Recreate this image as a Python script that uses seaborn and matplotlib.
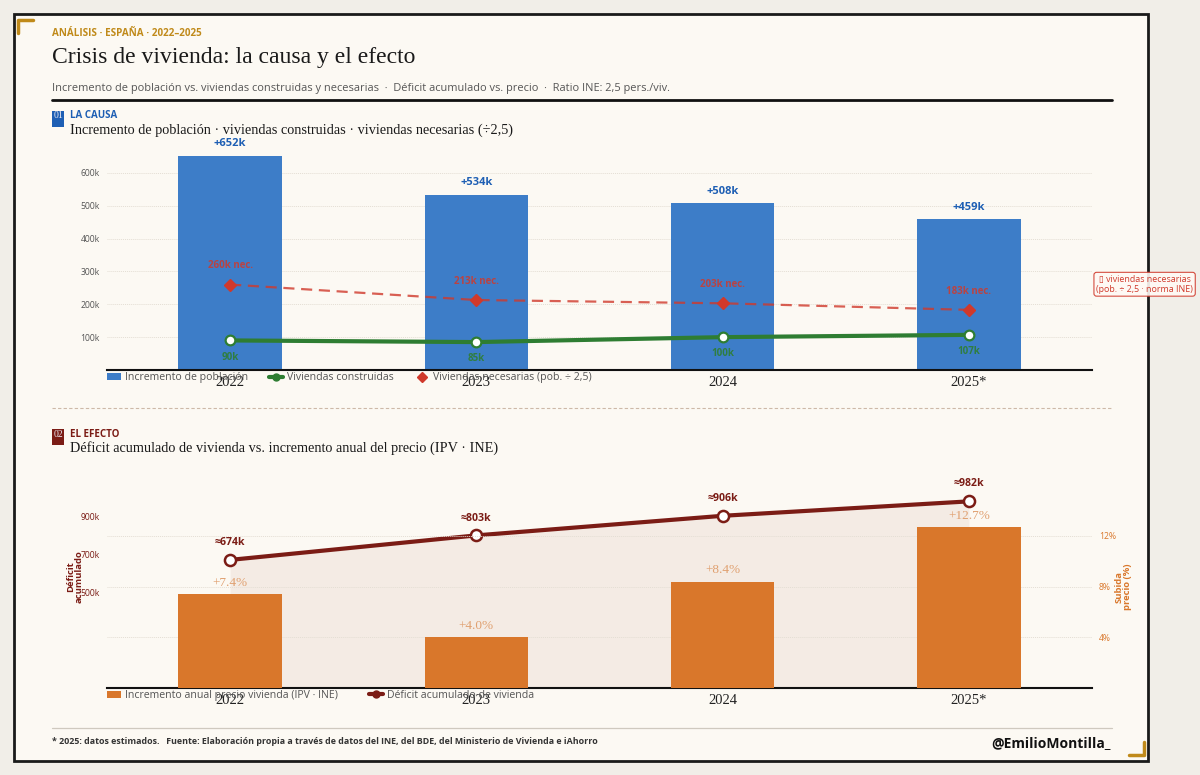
import matplotlib
matplotlib.use("Agg")
import matplotlib.pyplot as plt
import seaborn as sns
import pandas as pd
from matplotlib.patches import Rectangle, Patch
from matplotlib.lines import Line2D

# data
years = ["2022", "2023", "2024", "2025*"]
pop_increase = [652, 534, 508, 459]          # thousands of people
homes_needed = [260, 213, 203, 183]          # thousands (pop / 2.5)
homes_built = [90, 85, 100, 107]             # thousands
deficit_acc = [674, 803, 906, 982]           # thousands
price_rise = [7.4, 4.0, 8.4, 12.7]           # %

W, H = 1200, 775
SANS = "Open Sans"
SERIF = "Liberation Serif"

BG_OUT = "#f1eee8"
BG_IN = "#fcf9f3"
BLUE = "#3d7dc8"
BLUE_D = "#1e5fb4"
GREEN = "#2e7d32"
RED = "#d0392b"
ORANGE = "#d9772b"
DARKRED = "#7b1c15"
GOLD = "#c08a1a"

sns.set_theme(style="white")
plt.rcParams["font.family"] = [SANS, "DejaVu Sans"]


def fx(px):
    return px / W


def fy(py):
    return 1 - py / H


fig = plt.figure(figsize=(12, 7.75), dpi=100, facecolor=BG_OUT)

# frame
fig.add_artist(Rectangle((fx(14), fy(761)), fx(1148) - fx(14), fy(14) - fy(761),
                         transform=fig.transFigure, facecolor=BG_IN,
                         edgecolor="#1a1a1a", lw=2, zorder=0))
# gold corner brackets
fig.add_artist(Line2D([fx(33), fx(18), fx(18)], [fy(20), fy(20), fy(33)],
                      transform=fig.transFigure, color=GOLD, lw=2.5))
fig.add_artist(Line2D([fx(1129), fx(1144), fx(1144)], [fy(755), fy(755), fy(742)],
                      transform=fig.transFigure, color=GOLD, lw=2.5))

# header
fig.text(fx(52), fy(33), "ANÁLISIS · ESPAÑA · 2022–2025", color=GOLD,
         fontsize=7.1, fontweight="bold", va="center")
fig.text(fx(52), fy(58), "Crisis de vivienda: la causa y el efecto",
         family=SERIF, fontsize=17, color="#1a1a1a", va="center")
fig.text(fx(52), fy(88),
         "Incremento de población vs. viviendas construidas y necesarias  ·  "
         "Déficit acumulado vs. precio  ·  Ratio INE: 2,5 pers./viv.",
         fontsize=7.9, color="#555555", va="center")
fig.add_artist(Line2D([fx(52), fx(1112)], [fy(99.5), fy(99.5)],
                      transform=fig.transFigure, color="#111111", lw=2))

# section headings
def section(y_badge, num, kicker, subtitle, color):
    fig.add_artist(Rectangle((fx(52), fy(y_badge + 16)), fx(12), 16 / H,
                             transform=fig.transFigure, facecolor=color,
                             edgecolor="none"))
    fig.text(fx(58), fy(y_badge + 5), num, family=SERIF, fontsize=7,
             color="#e8e8f0", ha="center", va="center")
    fig.text(fx(70), fy(y_badge + 5), kicker, color=color, fontsize=7,
             fontweight="bold", va="center")
    fig.text(fx(70), fy(y_badge + 19), subtitle, family=SERIF, fontsize=10.3,
             color="#1a1a1a", va="center")


section(111, "01", "LA CAUSA",
        "Incremento de población · viviendas construidas · viviendas necesarias (÷2,5)",
        BLUE_D)
section(429, "02", "EL EFECTO",
        "Déficit acumulado de vivienda vs. incremento anual del precio (IPV · INE)",
        DARKRED)

fig.add_artist(Line2D([fx(52), fx(1112)], [fy(408), fy(408)],
                      transform=fig.transFigure, color="#cdb9a8", lw=0.8,
                      ls=(0, (3, 2))))

x_pos = list(range(len(years)))

# ---------- top chart ----------
df_top = pd.DataFrame({"year": years, "pob": [v * 1000 for v in pop_increase]})
ax_t = fig.add_axes([fx(107), fy(370), fx(1092) - fx(107), (370 - 140) / H])
ax_t.set_facecolor("none")
sns.barplot(data=df_top, x="year", y="pob", order=years, color=BLUE,
            width=0.42, saturation=1, ax=ax_t, zorder=2, edgecolor="none",
            linewidth=0)
for i, v in enumerate(pop_increase):
    ax_t.annotate(f"+{v}k", (i, v * 1000), xytext=(0, 8.5), textcoords="offset points",
                  ha="center", va="center", color=BLUE_D, fontsize=8,
                  fontweight="bold", annotation_clip=False)

need = [v * 1000 for v in homes_needed]
built = [v * 1000 for v in homes_built]
ax_t.plot(x_pos, need, color=RED, alpha=0.8, lw=1.6, ls=(0, (5, 3)), zorder=3)
ax_t.plot(x_pos, need, ls="none", marker="D", ms=6, color=RED, zorder=4)
ax_t.plot(x_pos, built, color=GREEN, lw=3, marker="o", ms=7,
          markerfacecolor="white", markeredgecolor=GREEN, markeredgewidth=1.6,
          zorder=5)
for i in x_pos:
    ax_t.annotate(f"{homes_needed[i]}k nec.", (i, need[i]), xytext=(0, 13.5),
                  textcoords="offset points", ha="center", va="center",
                  color=RED, alpha=0.85, fontsize=7, fontweight="bold")
    ax_t.annotate(f"{homes_built[i]}k", (i, built[i]), xytext=(0, -12),
                  textcoords="offset points", ha="center", va="center",
                  color=GREEN, alpha=0.9, fontsize=7, fontweight="bold")

ax_t.annotate("▯ viviendas necesarias\n(pob. ÷ 2,5 · norma INE)", (3.5, 261000),
              xytext=(3, 0), textcoords="offset points", ha="left", va="center",
              multialignment="center", fontsize=6.4, color=RED,
              annotation_clip=False,
              bbox=dict(boxstyle="round,pad=0.25,rounding_size=0.3",
                        facecolor="#fffaf5", edgecolor=RED, lw=0.8, alpha=0.9))

ax_t.set_xlim(-0.5, 3.5)
ax_t.set_ylim(0, 700000)
ax_t.set_yticks([100000, 200000, 300000, 400000, 500000, 600000])
ax_t.set_yticklabels([f"{k}k" for k in range(100, 700, 100)])
ax_t.set_xticks(x_pos)
ax_t.set_xticklabels(years, family=SERIF, fontsize=10.5, color="#222222")
ax_t.tick_params(axis="y", length=0, pad=5, labelsize=6.2, labelcolor="#555555")
ax_t.tick_params(axis="x", length=0, pad=4)
ax_t.set_xlabel("")
ax_t.set_ylabel("")
ax_t.yaxis.grid(True, color="#e4ded4", lw=0.7, ls=(0, (1, 1)))
ax_t.set_axisbelow(True)
for s in ["top", "right", "left"]:
    ax_t.spines[s].set_visible(False)
ax_t.spines["bottom"].set_color("#111111")
ax_t.spines["bottom"].set_linewidth(1.5)

leg_t = [Patch(facecolor=BLUE, edgecolor="none"),
         Line2D([], [], color=GREEN, lw=3, marker="o", ms=5, markerfacecolor=GREEN),
         Line2D([], [], ls="none", marker="D", ms=5, color=RED)]
ax_t.legend(leg_t, ["Incremento de población", "Viviendas construidas",
                    "Viviendas necesarias (pob. ÷ 2,5)"],
            ncol=3, loc="upper left", bbox_to_anchor=(0, -0.01), frameon=False,
            fontsize=7.6, labelcolor="#555555", handlelength=1.3,
            handletextpad=0.4, columnspacing=2.0, borderaxespad=0, borderpad=0)

# ---------- bottom chart ----------
ax_b = fig.add_axes([fx(107), fy(688), fx(1092) - fx(107), (688 - 470) / H])
ax_b.set_facecolor("none")
deficit = [v * 1000 for v in deficit_acc]
ax_b.fill_between(x_pos, deficit, 0, color="#a0503a", alpha=0.08, lw=0, zorder=1)
ax_b.plot(x_pos, deficit, color=DARKRED, lw=3, marker="o", ms=8,
          markerfacecolor="white", markeredgecolor=DARKRED, markeredgewidth=1.8,
          zorder=5)
for i in x_pos:
    ax_b.annotate(f"≈{deficit_acc[i]}k", (i, deficit[i]), xytext=(0, 12.5),
                  textcoords="offset points", ha="center", va="center",
                  color=DARKRED, fontsize=7.6, fontweight="bold")
ax_b.set_xlim(-0.5, 3.5)
ax_b.set_ylim(0, 1147000)
ax_b.set_yticks([500000, 700000, 900000])
ax_b.set_yticklabels(["500k", "700k", "900k"])
ax_b.tick_params(axis="y", length=0, pad=5, labelsize=6.2, labelcolor=DARKRED)
ax_b.grid(False)
for s in ["top", "right", "left"]:
    ax_b.spines[s].set_visible(False)
ax_b.spines["bottom"].set_color("#111111")
ax_b.spines["bottom"].set_linewidth(1.5)
ax_b.spines["bottom"].set_zorder(10)

ax_p = ax_b.twinx()
df_bot = pd.DataFrame({"year": years, "ipv": price_rise})
sns.barplot(data=df_bot, x="year", y="ipv", order=years, color=ORANGE,
            width=0.42, saturation=1, ax=ax_p, zorder=2, edgecolor="none",
            linewidth=0)
for i, v in enumerate(price_rise):
    ax_p.annotate(f"+{v:.1f}%", (i, v), xytext=(0, 8), textcoords="offset points",
                  ha="center", va="center", family=SERIF, fontsize=9.5,
                  color="#e0a070")
ax_p.set_ylim(0, 17.2)
ax_p.set_yticks([4, 8, 12])
ax_p.set_yticklabels(["4%", "8%", "12%"])
ax_p.tick_params(axis="y", length=0, pad=5, labelsize=6.2, labelcolor=ORANGE)
ax_p.yaxis.grid(True, color="#e4ded4", lw=0.7, ls=(0, (1, 1)))
ax_p.set_axisbelow(True)
ax_p.set_ylabel("")
ax_p.set_xlabel("")
for s in ["top", "right", "left", "bottom"]:
    ax_p.spines[s].set_visible(False)

ax_b.set_xlim(-0.5, 3.5)
ax_b.set_xticks(x_pos)
ax_b.set_xticklabels(years, family=SERIF, fontsize=10.5, color="#222222")
ax_b.tick_params(axis="x", length=0, pad=4)
ax_b.set_xlabel("")

fig.text(fx(75), fy(577), "Déficit\nacumulado", rotation=90, ha="center",
         va="center", color=DARKRED, fontsize=6.8, fontweight="bold",
         linespacing=0.95)
fig.text(fx(1123), fy(587), "Subida\nprecio (%)", rotation=90, ha="center",
         va="center", color=ORANGE, fontsize=6.8, fontweight="bold",
         linespacing=0.95)

leg_b = [Patch(facecolor=ORANGE, edgecolor="none"),
         Line2D([], [], color=DARKRED, lw=3, marker="o", ms=5,
                markerfacecolor=DARKRED)]
ax_b.legend(leg_b, ["Incremento anual precio vivienda (IPV · INE)",
                    "Déficit acumulado de vivienda"],
            ncol=2, loc="upper left", bbox_to_anchor=(0, -0.01), frameon=False,
            fontsize=7.6, labelcolor="#555555", handlelength=1.3,
            handletextpad=0.4, columnspacing=3.0, borderaxespad=0, borderpad=0)

# footer
fig.add_artist(Line2D([fx(52), fx(1112)], [fy(728), fy(728)],
                      transform=fig.transFigure, color="#cfc9bf", lw=0.9))
fig.text(fx(52), fy(741),
         "* 2025: datos estimados.   Fuente: Elaboración propia a través de datos "
         "del INE, del BDE, del Ministerio de Vivienda e iAhorro",
         fontsize=6.4, fontweight="bold", color="#333333", va="center")
fig.text(fx(1111), fy(743), "@EmilioMontilla_", fontsize=10, fontweight="bold",
         color="#111111", ha="right", va="center")

fig.savefig("out.png", dpi=100, facecolor=BG_OUT)
